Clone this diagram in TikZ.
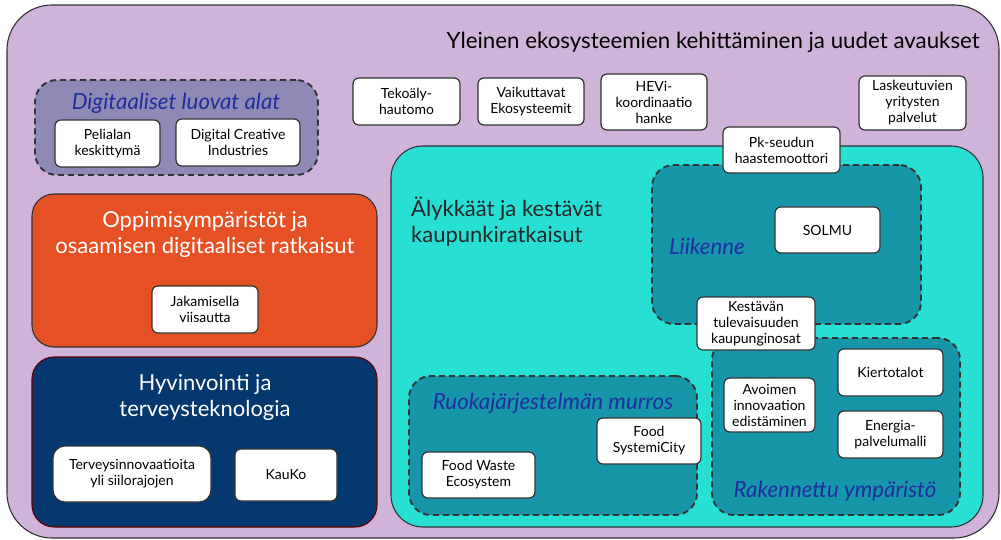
\documentclass[tikz,border=0pt]{standalone}
\usepackage{fontspec}
\setmainfont{Lato}
\definecolor{lilac}{HTML}{D0B3D9}
\definecolor{dlgray}{HTML}{8E8AB5}
\definecolor{orng}{HTML}{E55125}
\definecolor{navy}{HTML}{04386F}
\definecolor{turq}{HTML}{28DFD4}
\definecolor{dteal}{HTML}{1795A9}
\definecolor{lblue}{HTML}{1F2E9E}
\definecolor{edge}{HTML}{333333}
\tikzset{
  wbox/.style={draw=edge, line width=1.2pt, fill=white, rounded corners=6pt, align=center, inner sep=0pt,
     font=\fontsize{14}{16}\selectfont},
  bigbox/.style={draw=edge, line width=1.1pt, rounded corners=22pt, inner sep=0pt},
  dbox/.style={draw=edge, line width=1.9pt, dash pattern=on 6pt off 4pt, rounded corners=22pt, inner sep=0pt},
  ital/.style={font=\fontsize{22.3}{26}\selectfont\itshape, text=lblue, inner sep=0pt},
  head/.style={font=\fontsize{22}{26}\selectfont, align=center, inner sep=0pt}
}
\begin{document}
\begin{tikzpicture}[x=1pt,y=-1pt]
\useasboundingbox (0,0) rectangle (1001,540);
% outer
\node[bigbox, fill=lilac, rounded corners=45pt, minimum width=992pt, minimum height=533pt] (outer) at (503,271.5) {};
\node[font=\fontsize{22.3}{26}\selectfont, anchor=east, inner sep=0pt] (title) at (980,42) {Yleinen ekosysteemien kehittäminen ja uudet avaukset};
% Digitaaliset luovat alat
\node[dbox, fill=dlgray, minimum width=283pt, minimum height=95pt] (dla) at (176.5,127.5) {};
\node[ital] (dlat) at (176,103) {Digitaaliset luovat alat};
\node[wbox, minimum width=105pt, minimum height=47pt] (peli) at (107.5,143.5) {Pelialan\\keskittymä};
\node[wbox, minimum width=124pt, minimum height=47pt] (dci) at (238,142.5) {Digital Creative\\Industries};
% Orange
\node[bigbox, fill=orng, minimum width=345pt, minimum height=153pt] (opp) at (204.5,270.5) {};
\node[head, text=white] (oppt) at (205,234) {Oppimisympäristöt ja\\osaamisen digitaaliset ratkaisut};
\node[wbox, minimum width=106pt, minimum height=47pt] (jak) at (205,309.5) {Jakamisella\\viisautta};
% Navy
\node[bigbox, fill=navy, draw=black!60!red, minimum width=345pt, minimum height=170pt] (hyv) at (204.5,442) {};
\node[head, text=white] (hyvt) at (205,397.5) {Hyvinvointi ja\\terveysteknologia};
\node[wbox, rounded corners=12pt, minimum width=158pt, minimum height=56pt] (ter) at (132,474) {Terveysinnovaatioita\\yli siilorajojen};
\node[wbox, minimum width=102pt, minimum height=52pt] (kau) at (286,475) {KauKo};
% top boxes
\node[wbox, minimum width=107pt, minimum height=47pt] (tek) at (406.5,101.5) {Tekoäly-\\hautomo};
\node[wbox, minimum width=106pt, minimum height=47pt] (vai) at (531,101.5) {Vaikuttavat\\Ekosysteemit};
\node[wbox, minimum width=106pt, minimum height=56pt] (hev) at (654,102) {HEVi-\\koordinaatio\\hanke};
\node[wbox, minimum width=107pt, minimum height=54pt] (las) at (912.5,103) {Laskeutuvien\\yritysten\\palvelut};
% Turquoise
\node[bigbox, fill=turq, rounded corners=32pt, minimum width=592pt, minimum height=381pt] (aly) at (687,336.5) {};
\node[head, align=left, anchor=north west, text=black!85] (alyt) at (411,197) {Älykkäät ja kestävät\\kaupunkiratkaisut};
% Liikenne
\node[dbox, fill=dteal, minimum width=269pt, minimum height=159pt] (lii) at (786.5,244.5) {};
\node[ital] (liit) at (707,246) {Liikenne};
\node[wbox, minimum width=105pt, minimum height=46pt] (sol) at (827.5,230) {SOLMU};
\node[wbox, minimum width=117pt, minimum height=46pt] (pks) at (781.5,150) {Pk-seudun\\haastemoottori};
% Ruoka
\node[dbox, fill=dteal, minimum width=288pt, minimum height=139pt] (ruo) at (553,445.5) {};
\node[ital] (ruot) at (553,403) {Ruokajärjestelmän murros};
\node[wbox, minimum width=104pt, minimum height=46pt] (fsc) at (649,441) {Food\\SystemiCity};
\node[wbox, minimum width=113pt, minimum height=46pt] (fwe) at (478.5,475) {Food Waste\\Ecosystem};
% Rakennettu
\node[dbox, fill=dteal, minimum width=248pt, minimum height=177pt] (rak) at (836,426.5) {};
\node[ital] (rakt) at (835,491) {Rakennettu ympäristö};
\node[wbox, minimum width=91pt, minimum height=54pt] (avo) at (769.5,405) {Avoimen\\innovaation\\edistäminen};
\node[wbox, minimum width=105pt, minimum height=47pt] (kie) at (890.5,372.5) {Kiertotalot};
\node[wbox, minimum width=105pt, minimum height=47pt] (ene) at (890.5,434.5) {Energia-\\palvelumalli};
\node[wbox, minimum width=118pt, minimum height=53pt] (kes) at (756,323.5) {Kestävän\\tulevaisuuden\\kaupunginosat};
\end{tikzpicture}
\end{document}
